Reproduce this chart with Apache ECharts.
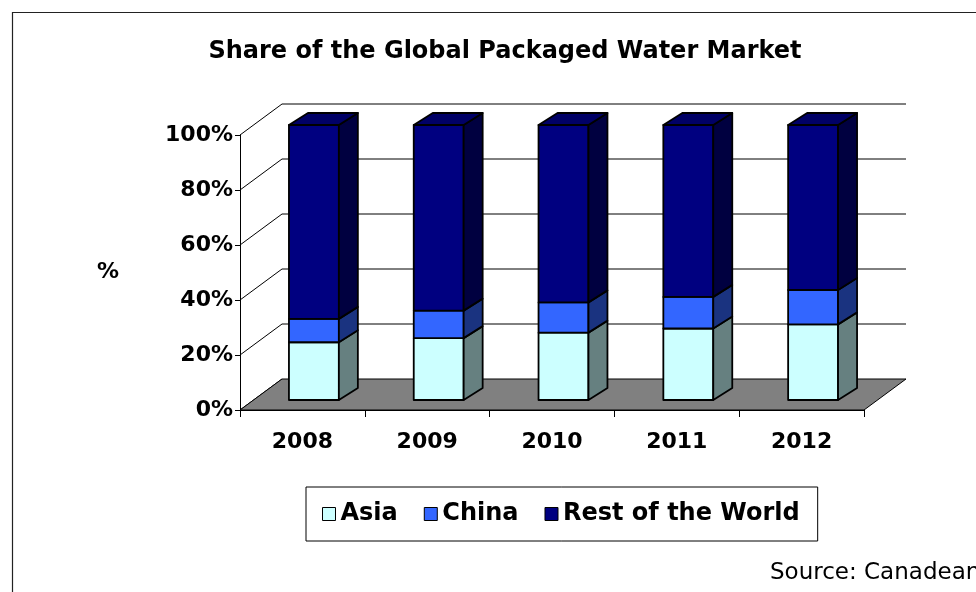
<!DOCTYPE html>
<html>
<head>
<meta charset="utf-8">
<script src="https://cdn.jsdelivr.net/npm/echarts@6/dist/echarts.min.js"></script>
<style>
html,body{margin:0;padding:0;background:#fff;}
#chart{width:976px;height:592px;}
</style>
</head>
<body>
<div id="chart"></div>
<script>
// ---- data ----
const categories = ['2008', '2009', '2010', '2011', '2012'];
const asia = [21, 22.5, 24.5, 26, 27.5];
const china = [8.5, 10, 11, 11.5, 12.5];
const rest = [70.5, 67.5, 64.5, 62.5, 60];
const yTicks = [0, 20, 40, 60, 80, 100];
const seriesNames = ['Asia', 'China', 'Rest of the World'];
const titleText = 'Share of the Global Packaged Water Market';
const sourceText = 'Source: Canadean';

// ---- styling constants ----
const FONT = 'DejaVu Sans';
const WALL_DX = 42, WALL_DY = -31;   // depth of floor / walls
const OX = 11.5, OY = -10;           // bar front-face offset into depth
const SX = 19, SY = -12;             // bar side depth
const colors = {
  Asia: { front: '#CCFFFF', side: '#668080', top: '#A3CCCC' },
  China: { front: '#3366FF', side: '#1A3380', top: '#2952CC' },
  'Rest of the World': { front: '#000080', side: '#000040', top: '#000066' }
};

// stacked starts/ends built from the arrays
function stackData(vals, bases) {
  return vals.map((v, i) => [i, bases[i], bases[i] + v]);
}
const zeros = categories.map(() => 0);
const asiaEnd = asia.map(v => v);
const chinaEnd = china.map((v, i) => asiaEnd[i] + v);
const dataAsia = stackData(asia, zeros);
const dataChina = stackData(china, asiaEnd);
const dataRest = stackData(rest, chinaEnd);

function frameRender(params, api) {
  const bw = api.size([1, 0])[0];
  const c0 = api.coord([0, 0]);
  const xL = c0[0] - bw / 2;
  const xR = xL + categories.length * bw;
  const children = [];
  yTicks.forEach(v => {
    const y = api.coord([0, v])[1];
    children.push({
      type: 'line',
      shape: { x1: xL, y1: y, x2: xL + WALL_DX, y2: y + WALL_DY },
      style: { stroke: '#000', lineWidth: 1 }
    });
    if (v > 0) {
      children.push({
        type: 'line',
        shape: { x1: xL + WALL_DX, y1: y + WALL_DY, x2: xR + WALL_DX, y2: y + WALL_DY },
        style: { stroke: '#000', lineWidth: 1 }
      });
    }
  });
  const y0 = c0[1];
  children.push({
    type: 'polygon',
    shape: { points: [[xL, y0], [xR, y0], [xR + WALL_DX, y0 + WALL_DY], [xL + WALL_DX, y0 + WALL_DY]] },
    style: { fill: '#808080', stroke: '#000', lineWidth: 1 }
  });
  return { type: 'group', children: children };
}

function barRender(name, withTop) {
  const c = colors[name];
  return function (params, api) {
    const i = api.value(0), s = api.value(1), e = api.value(2);
    const p0 = api.coord([i, s]);
    const p1 = api.coord([i, e]);
    const bw = api.size([1, 0])[0];
    const w = bw * 0.4;
    const x0 = p0[0] - w / 2 + OX;
    const x1 = x0 + w;
    const yb = p0[1] + OY;
    const yt = p1[1] + OY;
    const st = { stroke: '#000', lineWidth: 1.8, lineJoin: 'round' };
    const children = [
      { type: 'rect', shape: { x: x0, y: yt, width: w, height: yb - yt }, style: Object.assign({ fill: c.front }, st) },
      { type: 'polygon', shape: { points: [[x1, yb], [x1 + SX, yb + SY], [x1 + SX, yt + SY], [x1, yt]] }, style: Object.assign({ fill: c.side }, st) }
    ];
    if (withTop) {
      children.push({ type: 'polygon', shape: { points: [[x0, yt], [x0 + SX, yt + SY], [x1 + SX, yt + SY], [x1, yt]] }, style: Object.assign({ fill: c.top }, st) });
    }
    return { type: 'group', children: children };
  };
}

const chart = echarts.init(document.getElementById('chart'), null, { renderer: 'canvas' });
const option = {
  animation: false,
  backgroundColor: '#fff',
  title: {
    text: titleText,
    left: 500, top: 35, textAlign: 'center',
    textStyle: { fontFamily: FONT, fontWeight: 'bold', fontSize: 24, color: '#000' }
  },
  legend: {
    data: seriesNames.map(n => ({ name: n, itemStyle: { color: colors[n].front, borderColor: '#000', borderWidth: 1 } })),
    left: 306, top: 487,
    icon: 'rect', itemWidth: 13, itemHeight: 13, itemGap: 26,
    padding: [15, 18, 15, 16],
    borderColor: '#000', borderWidth: 1,
    textStyle: { fontFamily: FONT, fontWeight: 'bold', fontSize: 24, color: '#000' }
  },
  grid: { left: 240, right: 112, top: 135, bottom: 182, containLabel: false },
  xAxis: {
    type: 'category', data: categories,
    axisLine: { lineStyle: { color: '#000', width: 1 } },
    axisTick: { show: true, length: 7, lineStyle: { color: '#000' } },
    axisLabel: { margin: 21, fontFamily: FONT, fontWeight: 'bold', fontSize: 22, color: '#000' },
    splitLine: { show: false }
  },
  yAxis: {
    type: 'value', min: 0, max: 100, interval: 20,
    name: '%', nameLocation: 'middle', nameRotate: 0, nameGap: 121,
    nameTextStyle: { fontFamily: FONT, fontWeight: 'bold', fontSize: 22, color: '#000' },
    axisLine: { show: true, lineStyle: { color: '#000', width: 1 } },
    axisTick: { show: true, length: 5, lineStyle: { color: '#000' } },
    axisLabel: { formatter: '{value}%', margin: 7, fontFamily: FONT, fontWeight: 'bold', fontSize: 22, color: '#000' },
    splitLine: { show: false }
  },
  graphic: [
    { type: 'rect', left: 10, top: 10, z: -10, silent: true,
      shape: { width: 1000, height: 1000 }, style: { fill: 'none', stroke: '#222', lineWidth: 1.2 } },
    { type: 'text', left: 770, top: 562, style: { text: sourceText, font: '23px "DejaVu Sans"', fill: '#000' } }
  ],
  series: [
    { type: 'custom', name: 'frame', z: 1, silent: true, clip: false, renderItem: frameRender, data: [[0, 0]], encode: { x: 0, y: 1 } },
    { type: 'custom', name: 'Asia', z: 2, clip: false, renderItem: barRender('Asia', false), data: dataAsia, encode: { x: 0, y: [1, 2] }, itemStyle: { color: colors.Asia.front } },
    { type: 'custom', name: 'China', z: 2, clip: false, renderItem: barRender('China', false), data: dataChina, encode: { x: 0, y: [1, 2] }, itemStyle: { color: colors.China.front } },
    { type: 'custom', name: 'Rest of the World', z: 2, clip: false, renderItem: barRender('Rest of the World', true), data: dataRest, encode: { x: 0, y: [1, 2] }, itemStyle: { color: colors['Rest of the World'].front } }
  ]
};
chart.setOption(option);
</script>
</body>
</html>
